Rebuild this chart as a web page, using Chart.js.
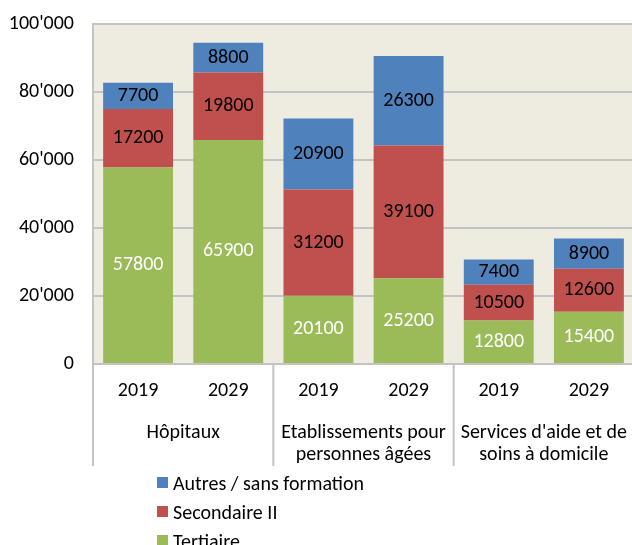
<!DOCTYPE html>
<html><head><meta charset="utf-8">
<script src="https://cdn.jsdelivr.net/npm/chart.js@4.4.1/dist/chart.umd.min.js"></script>
<style>
html,body{margin:0;padding:0;background:#fff;overflow:hidden;width:632px;height:545px;}
#wrap{position:absolute;left:0;top:0;width:650px;height:545px;}
#legend{position:absolute;left:157px;top:468px;font-family:Carlito,Lato,sans-serif;font-size:20px;color:#000;}
.item{height:29px;display:flex;align-items:center;white-space:nowrap;}
.sw{width:11px;height:11px;margin-right:5px;flex:none;}
</style></head><body>
<div id="wrap"><canvas id="c" width="650" height="545"></canvas></div>
<div id="legend"></div>
<script>
const years = ['2019','2029','2019','2029','2019','2029'];
const groups = ['Hôpitaux', ['Etablissements pour','personnes âgées'], ["Services d'aide et de",'soins à domicile']];
const seriesNames = ['Tertiaire', 'Secondaire II', 'Autres / sans formation'];
const tertiaire = [57800, 65900, 20100, 25200, 12800, 15400];
const secondaire = [17200, 19800, 31200, 39100, 10500, 12600];
const autres = [7700, 8800, 20900, 26300, 7400, 8900];
const yTicks = [0, 20000, 40000, 60000, 80000, 100000];

const colors = ['#9BBB59', '#C0504D', '#4F81BD'];
const labelColors = ['#FFFFFF', '#000000', '#000000'];
const FONT = 'Carlito, Lato, sans-serif';
const GRID = '#C3C3C3';

Chart.defaults.font.family = FONT;
Chart.defaults.font.size = 20;
Chart.defaults.color = '#000';

const fmt = v => String(v).replace(/\B(?=(\d{3})+(?!\d))/g, "'");

const valueLabels = {
  id: 'valueLabels',
  afterDatasetsDraw(chart) {
    const ctx = chart.ctx;
    ctx.save();
    ctx.font = '20px ' + FONT;
    ctx.textAlign = 'center';
    ctx.textBaseline = 'middle';
    chart.data.datasets.forEach((ds, di) => {
      const meta = chart.getDatasetMeta(di);
      meta.data.forEach((el, i) => {
        ctx.fillStyle = labelColors[di];
        ctx.fillText(String(ds.data[i]), el.x, (el.y + el.base) / 2);
      });
    });
    ctx.restore();
  }
};

const separators = {
  id: 'separators',
  afterDraw(chart) {
    const x2 = chart.scales.x2;
    const ctx = chart.ctx;
    const w = x2.getPixelForValue(1) - x2.getPixelForValue(0);
    ctx.save();
    ctx.strokeStyle = GRID;
    ctx.lineWidth = 2;
    for (let k = 0; k <= groups.length; k++) {
      const x = x2.getPixelForValue(0) - w / 2 + k * w;
      ctx.beginPath();
      ctx.moveTo(x, chart.chartArea.bottom);
      ctx.lineTo(x, x2.bottom - 8);
      ctx.stroke();
    }
    ctx.restore();
  }
};

const plotBg = {
  id: 'plotBg',
  beforeDraw(chart) {
    const {ctx, chartArea: a} = chart;
    ctx.save();
    ctx.fillStyle = '#EEECE1';
    ctx.fillRect(a.left, a.top, a.right - a.left, a.bottom - a.top);
    ctx.restore();
  }
};

const mk = (label, data, i) => ({
  label, data, backgroundColor: colors[i], borderWidth: 0,
  categoryPercentage: 1, barPercentage: 0.775, stack: 's'
});

new Chart(document.getElementById('c'), {
  type: 'bar',
  data: {
    labels: years,
    datasets: [
      mk(seriesNames[0], tertiaire, 0),
      mk(seriesNames[1], secondaire, 1),
      mk(seriesNames[2], autres, 2)
    ]
  },
  options: {
    responsive: false,
    animation: false,
    layout: {padding: {left: 0, top: 24, right: 16, bottom: 71}},
    plugins: {legend: {display: false}, tooltip: {enabled: false}},
    scales: {
      y: {
        stacked: true, min: 0, max: 100000,
        afterBuildTicks: s => { s.ticks = yTicks.map(v => ({value: v})); },
        afterFit: s => { s.width = 93; s.paddingTop = 12; s.paddingBottom = 12; },
        ticks: {padding: 19, callback: v => fmt(v), color: '#000'},
        grid: {color: GRID, lineWidth: 2, drawTicks: false},
        border: {display: true, color: GRID, width: 2}
      },
      x: {
        stacked: true,
        afterFit: s => { s.height = 48; },
        ticks: {padding: 7, color: '#000', maxRotation: 0, autoSkip: false},
        grid: {display: false},
        border: {display: true, color: GRID, width: 2}
      },
      x2: {
        type: 'category', position: 'bottom', labels: groups, offset: true,
        afterFit: s => { s.height = 62; },
        ticks: {padding: 2, color: '#000', maxRotation: 0, autoSkip: false, font: {lineHeight: 1.1}},
        grid: {display: false},
        border: {display: false}
      }
    }
  },
  plugins: [plotBg, valueLabels, separators]
});

const legend = document.getElementById('legend');
[2, 1, 0].forEach(i => {
  const row = document.createElement('div');
  row.className = 'item';
  const sw = document.createElement('span');
  sw.className = 'sw';
  sw.style.background = colors[i];
  const t = document.createElement('span');
  t.textContent = seriesNames[i];
  row.appendChild(sw); row.appendChild(t);
  legend.appendChild(row);
});
</script>
</body></html>
